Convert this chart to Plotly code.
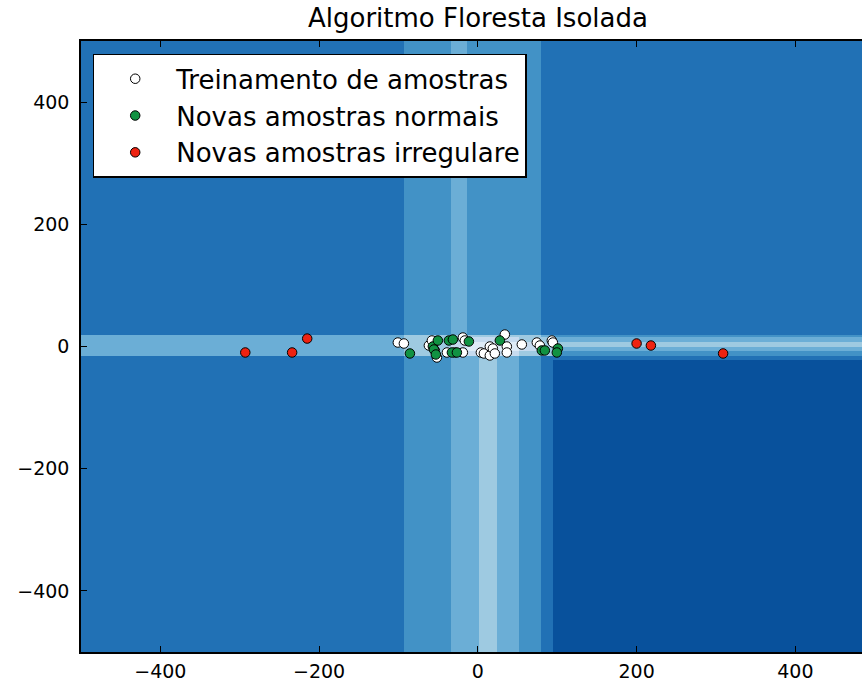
import plotly.graph_objects as go

# ---- data ----
# decision-function bands (piecewise constant grid, level 1 = darkest)
x_edges = [-500, -93, -34, -14, 1, 24, 52, 80, 95, 500]
y_edges = [-500, -22, -16, -7, 0, 8, 15, 19, 500]
levels = [
    [2, 3, 4, 4, 5, 4, 3, 2, 1],
    [2, 3, 4, 4, 5, 4, 3, 2, 2],
    [4, 5, 5, 6, 6, 6, 5, 5, 3],
    [4, 5, 6, 7, 7, 7, 6, 5, 4],
    [4, 5, 6, 7, 7, 7, 6, 5, 5],
    [4, 5, 5, 6, 6, 6, 5, 5, 4],
    [4, 5, 5, 5, 5, 5, 5, 4, 3],
    [2, 3, 4, 3, 3, 3, 3, 2, 2],
]
level_colors = ["#08519c", "#2171b5", "#4292c6", "#6baed6", "#9ecae1", "#c6dbef", "#deebf7"]

train_x = [-100.8, -93.2, -61.7, -57.9, -54.2, -51.6, -39.0, -29.0, -18.9, -18.9, -16.4,
           3.8, 7.6, 15.1, 15.1, 18.9, 21.4, 34.0, 36.5, 36.5, 55.4, 74.3, 78.1, 93.2, 94.5]
train_y = [6.5, 4.9, 1.6, 9.8, -6.5, -18.0, -9.8, -9.8, -9.8, 14.7, 9.8,
           -9.8, -11.4, -14.7, 0.0, -3.3, -11.4, 19.6, 0.0, -9.8, 3.3, 6.5, 1.6, 9.8, 6.5]

normal_x = [-85.6, -56.7, -55.4, -52.9, -50.4, -36.5, -31.5, -32.7, -26.4, -11.3,
            27.7, 80.6, 84.4, 100.8, 99.5]
normal_y = [-11.4, 0.0, -4.9, -13.1, 9.8, 9.8, 11.4, -9.8, -9.8, 8.2,
            9.8, -6.5, -6.5, -3.3, -9.8]

outlier_x = [-293, -234, -215, 200, 218, 309]
outlier_y = [-9.8, -9.8, 13.0, 4.9, 1.6, -11.4]

title_text = "Algoritmo Floresta Isolada"
legend_names = ["Treinamento de amostras", "Novas amostras normais", "Novas amostras irregulare"]
tick_vals = [-400, -200, 0, 200, 400]

# ---- figure ----
n = len(level_colors)
colorscale = []
for i, c in enumerate(level_colors):
    colorscale.append([i / n, c])
    colorscale.append([(i + 1) / n, c])

fig = go.Figure()
fig.add_trace(go.Heatmap(
    x=x_edges, y=y_edges, z=levels,
    zmin=0.5, zmax=n + 0.5, colorscale=colorscale,
    showscale=False, hoverinfo="skip", zsmooth=False,
))

marker_line = dict(color="black", width=1)
for xs, ys, col, name in [
    (train_x, train_y, "white", legend_names[0]),
    (normal_x, normal_y, "#119242", legend_names[1]),
    (outlier_x, outlier_y, "#ee2211", legend_names[2]),
]:
    fig.add_trace(go.Scatter(
        x=xs, y=ys, mode="markers", name=name,
        marker=dict(size=9.5, color=col, line=marker_line),
    ))

fig.add_annotation(
    text=title_text, x=0, xref="x", y=1.0, yref="paper",
    yanchor="bottom", yshift=6, showarrow=False,
    font=dict(size=26, color="black", family="DejaVu Sans"),
)

fig.update_layout(
    width=862, height=684,
    margin=dict(l=81, r=0, t=41, b=32, autoexpand=False),
    paper_bgcolor="white", plot_bgcolor="white",
    font=dict(family="DejaVu Sans", size=19, color="black"),
    showlegend=True,
    legend=dict(
        x=0.015, y=0.979, xanchor="left", yanchor="top",
        bgcolor="white", bordercolor="black", borderwidth=1.5,
        font=dict(size=26, family="DejaVu Sans", color="black"),
        itemwidth=72, tracegroupgap=0,
    ),
    xaxis=dict(
        range=[-500, 484], tickvals=tick_vals, showgrid=False, zeroline=False,
        showline=True, linecolor="black", linewidth=1.5, mirror="ticks",
        ticks="inside", ticklen=6, tickcolor="black", ticklabelstandoff=1,
        automargin=False,
    ),
    yaxis=dict(
        range=[-500, 500], tickvals=tick_vals, showgrid=False, zeroline=False,
        showline=True, linecolor="black", linewidth=1.5, mirror=False,
        ticks="inside", ticklen=6, tickcolor="black", ticklabelstandoff=6,
        automargin=False,
    ),
)

fig.write_html(
    "out.html",
    config={"displayModeBar": False},
    post_script="document.body.style.margin='0px';",
)
